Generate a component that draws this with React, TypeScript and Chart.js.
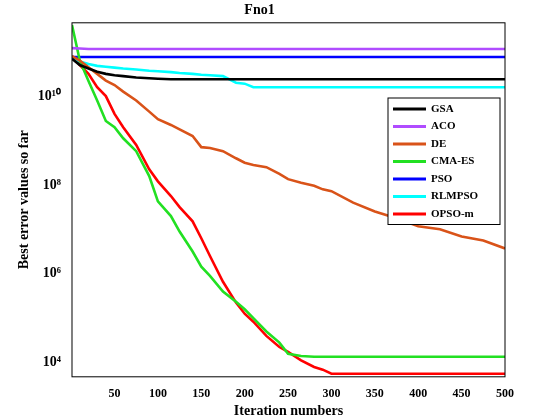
import React, { useEffect, useRef } from 'react';
import { Chart, registerables } from 'chart.js';

Chart.register(...registerables);

// iterations sampled along the curves; values are log10(best error)
const iters = [1, 10, 20, 30, 40, 50, 60, 75, 90, 100, 115, 125, 140, 150, 160, 175, 190, 200, 210, 225, 240, 250, 265, 280, 290, 300, 325, 350, 375, 400, 425, 450, 475, 500];
const gsa = [10.84, 10.7, 10.62, 10.55, 10.5, 10.47, 10.45, 10.42, 10.4, 10.39, 10.38, 10.38, 10.38, 10.38, 10.38, 10.38, 10.38, 10.38, 10.38, 10.38, 10.38, 10.38, 10.38, 10.38, 10.38, 10.38, 10.38, 10.38, 10.38, 10.38, 10.38, 10.38, 10.38, 10.38];
const aco = [11.08, 11.07, 11.06, 11.06, 11.06, 11.06, 11.06, 11.06, 11.06, 11.06, 11.06, 11.06, 11.06, 11.06, 11.06, 11.06, 11.06, 11.06, 11.06, 11.06, 11.06, 11.06, 11.06, 11.06, 11.06, 11.06, 11.06, 11.06, 11.06, 11.06, 11.06, 11.06, 11.06, 11.06];
const de = [10.9, 10.8, 10.65, 10.5, 10.35, 10.25, 10.1, 9.9, 9.65, 9.48, 9.35, 9.25, 9.1, 8.85, 8.83, 8.76, 8.6, 8.5, 8.45, 8.4, 8.25, 8.13, 8.05, 7.98, 7.9, 7.86, 7.6, 7.4, 7.25, 7.07, 7.0, 6.84, 6.75, 6.57];
const cma = [11.6, 10.8, 10.34, 9.9, 9.44, 9.3, 9.05, 8.76, 8.2, 7.63, 7.3, 6.95, 6.5, 6.16, 5.95, 5.6, 5.37, 5.2, 5.0, 4.7, 4.45, 4.2, 4.15, 4.13, 4.13, 4.13, 4.13, 4.13, 4.13, 4.13, 4.13, 4.13, 4.13, 4.13];
const pso = [10.88, 10.88, 10.88, 10.88, 10.88, 10.88, 10.88, 10.88, 10.88, 10.88, 10.88, 10.88, 10.88, 10.88, 10.88, 10.88, 10.88, 10.88, 10.88, 10.88, 10.88, 10.88, 10.88, 10.88, 10.88, 10.88, 10.88, 10.88, 10.88, 10.88, 10.88, 10.88, 10.88, 10.88];
const rlmpso = [10.85, 10.78, 10.72, 10.68, 10.66, 10.64, 10.62, 10.6, 10.57, 10.56, 10.54, 10.52, 10.5, 10.48, 10.47, 10.45, 10.3, 10.28, 10.2, 10.2, 10.2, 10.2, 10.2, 10.2, 10.2, 10.2, 10.2, 10.2, 10.2, 10.2, 10.2, 10.2, 10.2, 10.2];
const opso = [10.9, 10.7, 10.5, 10.2, 10.0, 9.6, 9.3, 8.9, 8.35, 8.08, 7.75, 7.5, 7.18, 6.8, 6.4, 5.82, 5.35, 5.1, 4.92, 4.6, 4.35, 4.24, 4.05, 3.9, 3.84, 3.75, 3.75, 3.75, 3.75, 3.75, 3.75, 3.75, 3.75, 3.75];

const names = ['GSA', 'ACO', 'DE', 'CMA-ES', 'PSO', 'RLMPSO', 'OPSO-m'];
const colors = ['#000000', '#b04cff', '#d95319', '#22e022', '#0000ff', '#00ffff', '#ff0000'];
const seriesList = [gsa, aco, de, cma, pso, rlmpso, opso];
const xTicks = [50, 100, 150, 200, 250, 300, 350, 400, 450, 500];
const yTicks = [4, 6, 8, 10];

const sup: Record<string, string> = { '0': '⁰', '1': '¹', '2': '²', '3': '³', '4': '⁴', '5': '⁵', '6': '⁶', '7': '⁷', '8': '⁸', '9': '⁹' };
const font = "'Liberation Serif', serif";

const framePlugin = {
  id: 'frame',
  afterDraw(chart: any) {
    const { ctx, chartArea: a } = chart;
    ctx.save();
    ctx.strokeStyle = '#000';
    ctx.lineWidth = 1;
    ctx.strokeRect(a.left, a.top, a.right - a.left, a.bottom - a.top);
    // legend box
    const lx = 388, ly = 98, lw = 112, rowH = 17.5;
    ctx.fillStyle = '#fff';
    ctx.fillRect(lx, ly, lw, rowH * names.length + 4);
    ctx.strokeRect(lx, ly, lw, rowH * names.length + 4);
    ctx.font = `bold 11px ${font}`;
    ctx.textBaseline = 'middle';
    names.forEach((n, i) => {
      const y = ly + 11 + i * rowH;
      ctx.strokeStyle = colors[i];
      ctx.lineWidth = 3;
      ctx.beginPath();
      ctx.moveTo(lx + 5, y);
      ctx.lineTo(lx + 38, y);
      ctx.stroke();
      ctx.fillStyle = '#000';
      ctx.fillText(n, lx + 43, y);
    });
    ctx.restore();
  },
};

const App: React.FC = () => {
  const canvasRef = useRef<HTMLCanvasElement>(null);

  useEffect(() => {
    document.body.style.margin = '0';
    if (!canvasRef.current) return;
    const chart = new Chart(canvasRef.current, {
      type: 'line',
      data: {
        datasets: seriesList.map((s, i) => ({
          label: names[i],
          data: s.map((v, j) => ({ x: iters[j], y: v })),
          borderColor: colors[i],
          borderWidth: 2.6,
          pointRadius: 0,
          tension: 0,
        })),
      },
      options: {
        animation: false,
        responsive: false,
        layout: { padding: { top: 0, right: 55, left: 14, bottom: 0 } },
        plugins: {
          legend: { display: false },
          tooltip: { enabled: false },
          title: { display: true, text: 'Fno1', color: '#000', font: { family: font, size: 14, weight: 'bold' }, padding: { top: 2, bottom: 4 } },
        },
        scales: {
          x: {
            type: 'linear', min: 1, max: 500,
            afterBuildTicks: (ax: any) => { ax.ticks = xTicks.map((v) => ({ value: v })); },
            grid: { display: false },
            border: { display: false },
            ticks: { color: '#000', font: { family: font, size: 12, weight: 'bold' }, maxRotation: 0, padding: 2 },
            title: { display: true, text: 'Iteration numbers', color: '#000', font: { family: font, size: 14, weight: 'bold' }, padding: 0 },
          },
          y: {
            type: 'linear', min: 3.68, max: 11.65,
            afterBuildTicks: (ax: any) => { ax.ticks = yTicks.map((v) => ({ value: v })); },
            grid: { display: false },
            border: { display: false },
            ticks: {
              color: '#000', font: { family: font, size: 14, weight: 'bold' },
              callback: (v: any) => '10' + String(v).split('').map((c) => sup[c]).join(''),
            },
            title: { display: true, text: 'Best error values so far', color: '#000', font: { family: font, size: 14, weight: 'bold' }, padding: 2 },
          },
        },
      },
      plugins: [framePlugin],
    });
    return () => chart.destroy();
  }, []);

  return (
    <div style={{ width: 560, height: 420, background: '#fff' }}>
      <canvas ref={canvasRef} width={560} height={420} />
    </div>
  );
};

export default App;
